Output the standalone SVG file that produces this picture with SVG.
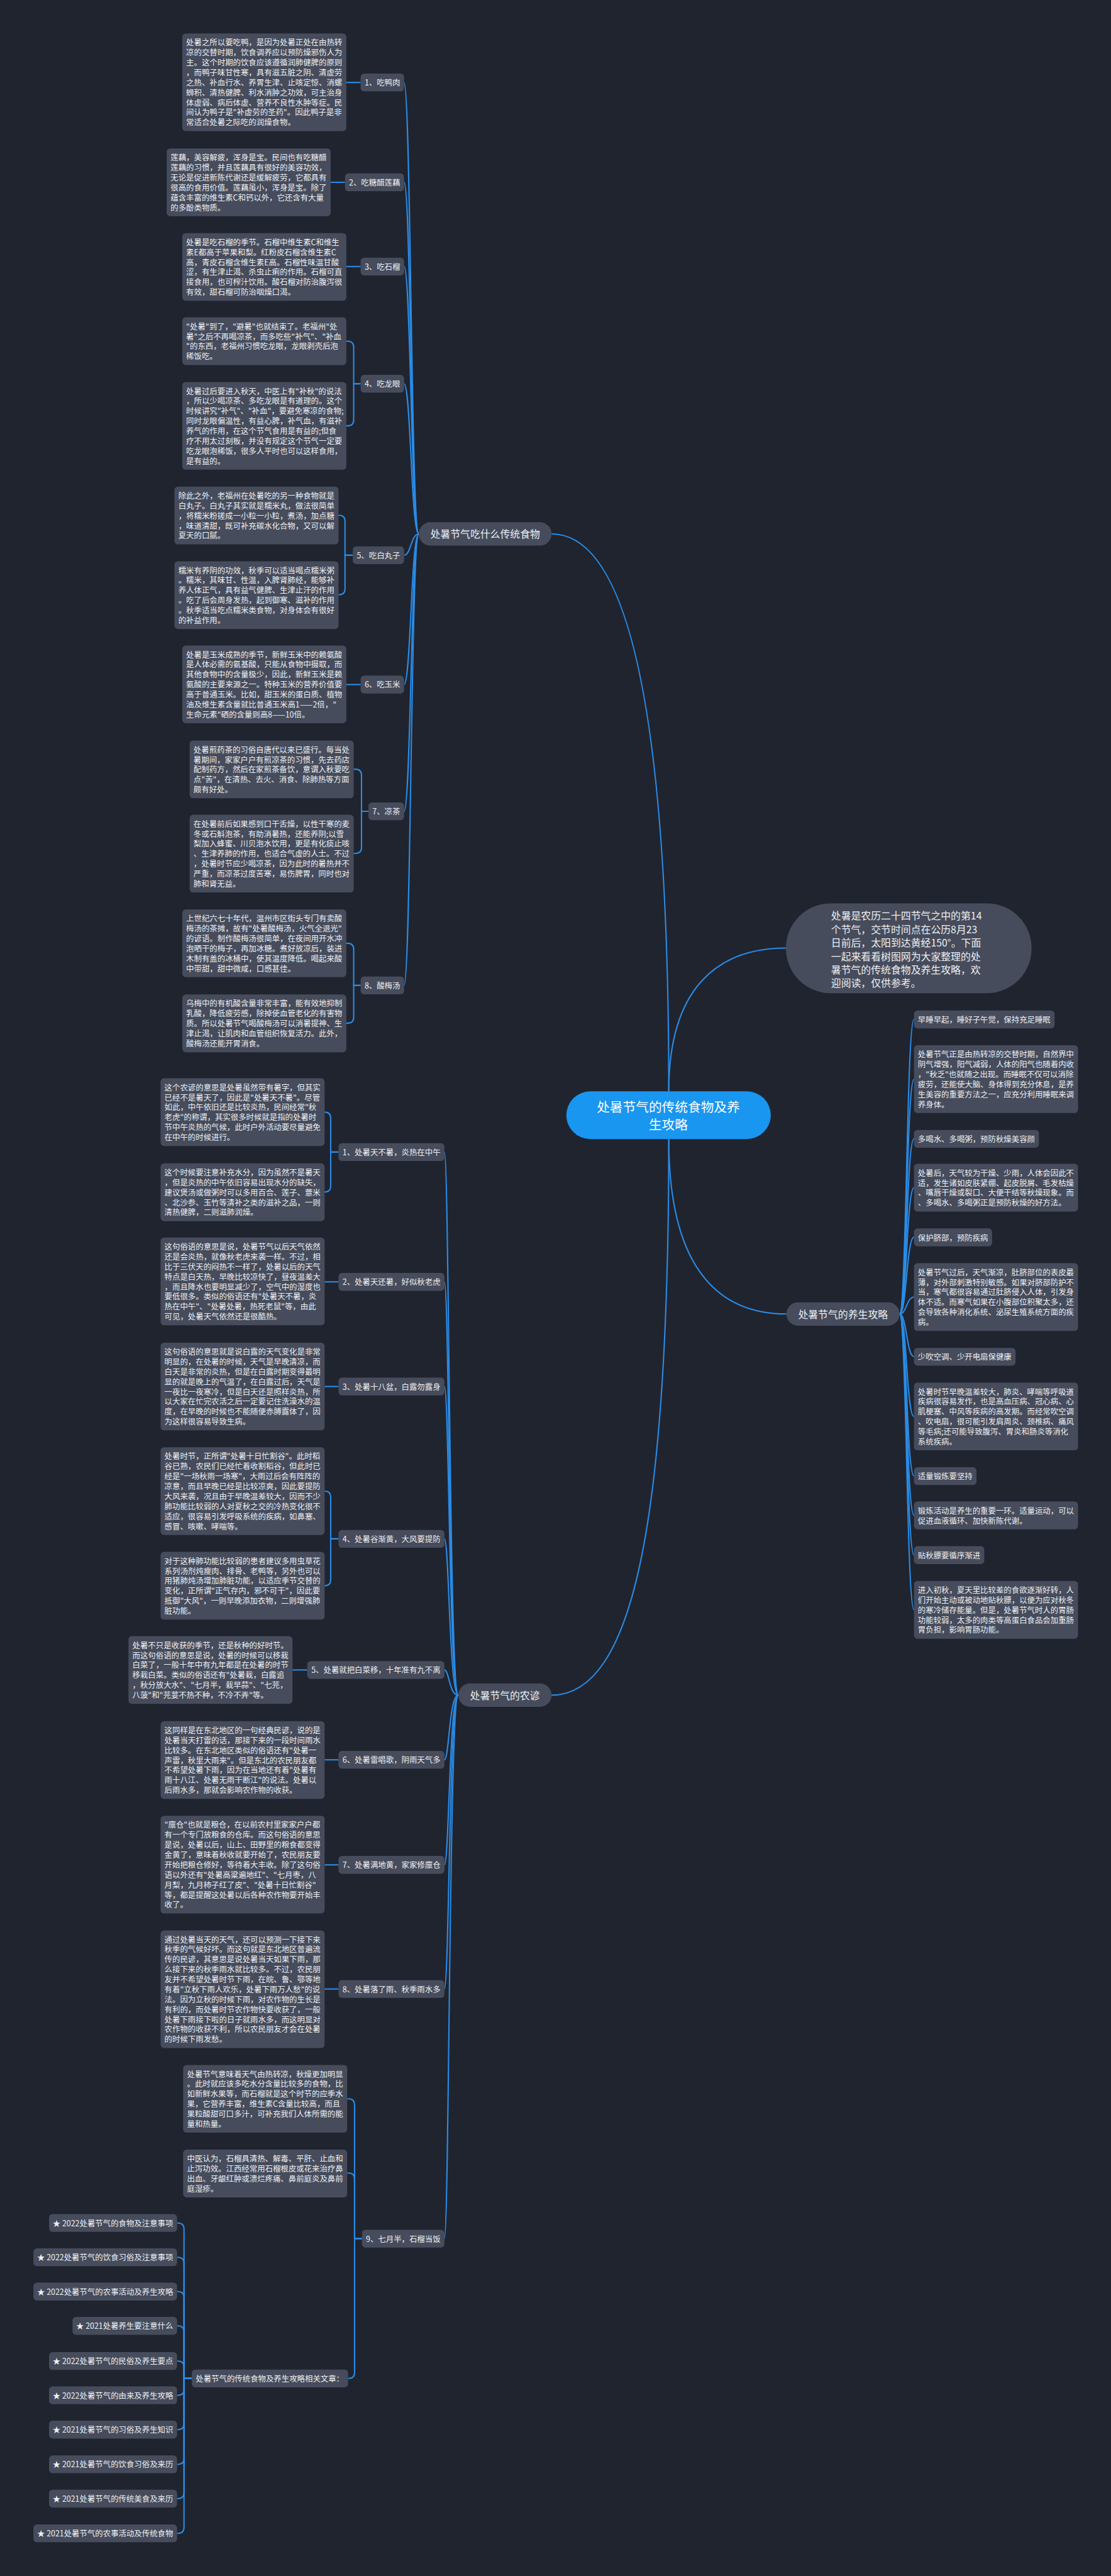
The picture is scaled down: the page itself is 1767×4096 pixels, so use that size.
<svg xmlns="http://www.w3.org/2000/svg" width="1767" height="4096" viewBox="0 0 1767 4096">
<style>
.bg{fill:#20242f}
.n rect{fill:#464c5c}
.n text{fill:#eef0f3;font-family:"Noto Sans CJK SC","Noto Sans",sans-serif;font-size:18px;dominant-baseline:central}
.b rect{fill:#464c5c}
.b text{fill:#eef0f3;font-family:"Noto Sans CJK SC","Noto Sans",sans-serif;font-size:23px;dominant-baseline:central;text-anchor:middle}
.lab text{text-anchor:end}
.c path{fill:none;stroke:#2a8ce6;stroke-width:3}
</style>
<rect class="bg" x="0" y="0" width="1767" height="4096"/>
<g transform="scale(0.690234)">
<g class="c" id="connectors">
<path d="M1541 2514 C1541 1700 1460 1230 1271 1230"/>
<path d="M1541 2514 C1541 2280 1650 2184 1811 2184"/>
<path d="M1541 2624 C1541 2900 1640 3027 1812 3027"/>
<path d="M1541 2624 C1541 3500 1460 3905 1271 3905"/>
<path d="M965 1230 C947 1230 947 190 931 190"/>
<path d="M965 1230 C947 1230 947 420 931 420"/>
<path d="M965 1230 C947 1230 947 614 931 614"/>
<path d="M965 1230 C947 1230 947 884 931 884"/>
<path d="M965 1230 C947 1230 947 1279 931 1279"/>
<path d="M965 1230 C947 1230 947 1577 931 1577"/>
<path d="M965 1230 C947 1230 947 1869 931 1869"/>
<path d="M965 1230 C947 1230 947 2270 931 2270"/>
<path d="M797 190 H831"/>
<path d="M762 420 H795"/>
<path d="M797 614 H831"/>
<path d="M831 884 H815 V800 Q815 786 801 786 H797"/>
<path d="M831 884 H815 V967 Q815 981 801 981 H797"/>
<path d="M813 1279 H795 V1201 Q795 1187 781 1187 H780"/>
<path d="M813 1279 H795 V1356 Q795 1370 781 1370 H780"/>
<path d="M797 1577 H831"/>
<path d="M849 1869 H833 V1786 Q833 1772 819 1772 H815"/>
<path d="M849 1869 H833 V1952 Q833 1966 819 1966 H815"/>
<path d="M831 2270 H815 V2187 Q815 2173 801 2173 H797"/>
<path d="M831 2270 H815 V2343 Q815 2357 801 2357 H797"/>
<path d="M1056 3905 C1035 3905 1035 2654 1024 2654"/>
<path d="M1056 3905 C1035 3905 1035 2953 1024 2953"/>
<path d="M1056 3905 C1035 3905 1035 3194 1024 3194"/>
<path d="M1056 3905 C1035 3905 1035 3545 1024 3545"/>
<path d="M1056 3905 C1035 3905 1035 3847 1024 3847"/>
<path d="M1056 3905 C1035 3905 1035 4054 1024 4054"/>
<path d="M1056 3905 C1035 3905 1035 4296 1024 4296"/>
<path d="M1056 3905 C1035 3905 1035 4582 1024 4582"/>
<path d="M1056 3905 C1035 3905 1035 5157 1024 5157"/>
<path d="M780 2654 H762 V2576 Q762 2562 748 2562"/>
<path d="M780 2654 H762 V2732 Q762 2746 748 2746"/>
<path d="M748 2953 H780"/>
<path d="M748 3194 H780"/>
<path d="M780 3545 H762 V3449 Q762 3435 748 3435"/>
<path d="M780 3545 H762 V3639 Q762 3653 748 3653"/>
<path d="M674 3847 H708"/>
<path d="M748 4054 H780"/>
<path d="M748 4296 H780"/>
<path d="M748 4582 H780"/>
<path d="M834 5157 H817 V4849 Q817 4835 803 4835 H800"/>
<path d="M834 5157 H817 V5020 Q817 5006 803 5006 H800"/>
<path d="M834 5157 H817 V5465 Q817 5479 803 5479 H802"/>
<path d="M442 5479 H424 V5135 Q424 5121 410 5121 H408"/>
<path d="M442 5479 H424 V5214 Q424 5200 410 5200 H408"/>
<path d="M442 5479 H424 V5293 Q424 5279 410 5279 H408"/>
<path d="M442 5479 H424 V5372 Q424 5358 410 5358 H408"/>
<path d="M442 5479 H424 V5453 Q424 5439 410 5439 H408"/>
<path d="M442 5479 H424 V5504 Q424 5518 410 5518 H408"/>
<path d="M442 5479 H424 V5583 Q424 5597 410 5597 H408"/>
<path d="M442 5479 H424 V5663 Q424 5677 410 5677 H408"/>
<path d="M442 5479 H424 V5742 Q424 5756 410 5756 H408"/>
<path d="M442 5479 H424 V5822 Q424 5836 410 5836 H408"/>
<path d="M2073 3027 C2089 3027 2089 2348 2106 2348"/>
<path d="M2073 3027 C2089 3027 2089 2486 2106 2486"/>
<path d="M2073 3027 C2089 3027 2089 2623 2106 2623"/>
<path d="M2073 3027 C2089 3027 2089 2736 2106 2736"/>
<path d="M2073 3027 C2089 3027 2089 2850 2106 2850"/>
<path d="M2073 3027 C2089 3027 2089 2988 2106 2988"/>
<path d="M2073 3027 C2089 3027 2089 3125 2106 3125"/>
<path d="M2073 3027 C2089 3027 2089 3263 2106 3263"/>
<path d="M2073 3027 C2089 3027 2089 3400 2106 3400"/>
<path d="M2073 3027 C2089 3027 2089 3491 2106 3491"/>
<path d="M2073 3027 C2089 3027 2089 3582 2106 3582"/>
<path d="M2073 3027 C2089 3027 2089 3708 2106 3708"/>
</g>

<g id="center">
<rect x="1305" y="2514" width="471" height="110" rx="55" fill="#1896f0"/>
<text x="1540" y="2548" fill="#ffffff" font-family="Noto Sans CJK SC, sans-serif" font-size="30" text-anchor="middle" dominant-baseline="central">处暑节气的传统食物及养</text>
<text x="1540" y="2589" fill="#ffffff" font-family="Noto Sans CJK SC, sans-serif" font-size="30" text-anchor="middle" dominant-baseline="central">生攻略</text>
</g>

<g id="intro" class="b">
<rect x="1811" y="2081" width="566" height="207" rx="103"/>
<text style="text-anchor:start" x="1915" y="2108.5"><tspan x="1915">处暑是农历二十四节气之中的第14</tspan><tspan x="1915" dy="31">个节气，交节时间点在公历8月23</tspan><tspan x="1915" dy="31">日前后，太阳到达黄经150°。下面</tspan><tspan x="1915" dy="31">一起来看看树图网为大家整理的处</tspan><tspan x="1915" dy="31">暑节气的传统食物及养生攻略，欢</tspan><tspan x="1915" dy="31">迎阅读，仅供参考。</tspan></text>
</g>

<g id="branch-food" class="b"><rect x="965" y="1203" width="306" height="54" rx="27"/><text x="1118" y="1230">处暑节气吃什么传统食物</text></g>
<g id="branch-health" class="b"><rect x="1812" y="3000" width="261" height="54" rx="27"/><text x="1942.5" y="3027">处暑节气的养生攻略</text></g>
<g id="branch-proverb" class="b"><rect x="1056" y="3878" width="215" height="54" rx="27"/><text x="1163.5" y="3905">处暑节气的农谚</text></g>

<g id="a-l1" class="n lab"><rect x="831" y="169.5" width="100" height="41" rx="8"/><text x="922" y="190">1、吃鸭肉</text></g>
<g id="a-l2" class="n lab"><rect x="795" y="399.5" width="136" height="41" rx="8"/><text x="922" y="420">2、吃糖醋莲藕</text></g>
<g id="a-l3" class="n lab"><rect x="831" y="593.5" width="100" height="41" rx="8"/><text x="922" y="614">3、吃石榴</text></g>
<g id="a-l4" class="n lab"><rect x="831" y="863.5" width="100" height="41" rx="8"/><text x="922" y="884">4、吃龙眼</text></g>
<g id="a-l5" class="n lab"><rect x="813" y="1258.5" width="118" height="41" rx="8"/><text x="922" y="1279">5、吃白丸子</text></g>
<g id="a-l6" class="n lab"><rect x="831" y="1556.5" width="100" height="41" rx="8"/><text x="922" y="1577">6、吃玉米</text></g>
<g id="a-l7" class="n lab"><rect x="849" y="1848.5" width="82" height="41" rx="8"/><text x="922" y="1869">7、凉茶</text></g>
<g id="a-l8" class="n lab"><rect x="831" y="2249.5" width="100" height="41" rx="8"/><text x="922" y="2270">8、酸梅汤</text></g>

<g id="a1" class="n"><rect x="420" y="77" width="378" height="225" rx="8"/><text x="429" y="97.5"><tspan x="429">处暑之所以要吃鸭，是因为处暑正处在由热转</tspan><tspan x="429" dy="23">凉的交替时期，饮食调养应以预防燥邪伤人为</tspan><tspan x="429" dy="23">主。这个时期的饮食应该遵循润肺健脾的原则</tspan><tspan x="429" dy="23">，而鸭子味甘性寒，具有滋五脏之阴、清虚劳</tspan><tspan x="429" dy="23">之热、补血行水、养胃生津、止咳定惊、消螺</tspan><tspan x="429" dy="23">蛳积、清热健脾、利水消肿之功效，可主治身</tspan><tspan x="429" dy="23">体虚弱、病后体虚、营养不良性水肿等症。民</tspan><tspan x="429" dy="23">间认为鸭子是"补虚劳的圣药"。因此鸭子是非</tspan><tspan x="429" dy="23">常适合处暑之际吃的润燥食物。</tspan></text></g>
<g id="a2" class="n"><rect x="384" y="342" width="378" height="156" rx="8"/><text x="393" y="362.5"><tspan x="393">莲藕，美容解疲，浑身是宝。民间也有吃糖醋</tspan><tspan x="393" dy="23">莲藕的习惯，并且莲藕具有很好的美容功效，</tspan><tspan x="393" dy="23">无论是促进新陈代谢还是缓解疲劳，它都具有</tspan><tspan x="393" dy="23">很高的食用价值。莲藕虽小，浑身是宝。除了</tspan><tspan x="393" dy="23">蕴含丰富的维生素C和钙以外，它还含有大量</tspan><tspan x="393" dy="23">的多酚类物质。</tspan></text></g>
<g id="a3" class="n"><rect x="420" y="537" width="378" height="156" rx="8"/><text x="429" y="557.5"><tspan x="429">处暑是吃石榴的季节。石榴中维生素C和维生</tspan><tspan x="429" dy="23">素E都高于苹果和梨。红粉皮石榴含维生素C</tspan><tspan x="429" dy="23">高，青皮石榴含维生素E高。石榴性味温甘酸</tspan><tspan x="429" dy="23">涩，有生津止渴、杀虫止痢的作用。石榴可直</tspan><tspan x="429" dy="23">接食用，也可榨汁饮用。酸石榴对防治腹泻很</tspan><tspan x="429" dy="23">有效，甜石榴可防治咽燥口渴。</tspan></text></g>
<g id="a4a" class="n"><rect x="420" y="731" width="378" height="110" rx="8"/><text x="429" y="751.5"><tspan x="429">"处暑"到了，"避暑"也就结束了。老福州"处</tspan><tspan x="429" dy="23">暑"之后不再喝凉茶，而多吃些"补气"、"补血</tspan><tspan x="429" dy="23">"的东西，老福州习惯吃龙眼，龙眼剥壳后泡</tspan><tspan x="429" dy="23">稀饭吃。</tspan></text></g>
<g id="a4b" class="n"><rect x="420" y="880" width="378" height="202" rx="8"/><text x="429" y="900.5"><tspan x="429">处暑过后要进入秋天，中医上有"补秋"的说法</tspan><tspan x="429" dy="23">，所以少喝凉茶、多吃龙眼是有道理的。这个</tspan><tspan x="429" dy="23">时候讲究"补气"、"补血"，要避免寒凉的食物;</tspan><tspan x="429" dy="23">同时龙眼偏温性，有益心脾，补气血，有滋补</tspan><tspan x="429" dy="23">养气的作用，在这个节气食用是有益的;但食</tspan><tspan x="429" dy="23">疗不用太过刻板，并没有规定这个节气一定要</tspan><tspan x="429" dy="23">吃龙眼泡稀饭，很多人平时也可以这样食用，</tspan><tspan x="429" dy="23">是有益的。</tspan></text></g>
<g id="a5a" class="n"><rect x="402" y="1121" width="378" height="133" rx="8"/><text x="411" y="1141.5"><tspan x="411">除此之外，老福州在处暑吃的另一种食物就是</tspan><tspan x="411" dy="23">白丸子。白丸子其实就是糯米丸，做法很简单</tspan><tspan x="411" dy="23">，将糯米粉搓成一小粒一小粒，煮汤，加点糖</tspan><tspan x="411" dy="23">，味道清甜，既可补充碳水化合物，又可以解</tspan><tspan x="411" dy="23">夏天的口腻。</tspan></text></g>
<g id="a5b" class="n"><rect x="402" y="1293" width="378" height="156" rx="8"/><text x="411" y="1313.5"><tspan x="411">糯米有养阴的功效，秋季可以适当喝点糯米粥</tspan><tspan x="411" dy="23">。糯米，其味甘、性温，入脾肾肺经，能够补</tspan><tspan x="411" dy="23">养人体正气，具有益气健脾、生津止汗的作用</tspan><tspan x="411" dy="23">。吃了后会周身发热，起到御寒、滋补的作用</tspan><tspan x="411" dy="23">。秋季适当吃点糯米类食物，对身体会有很好</tspan><tspan x="411" dy="23">的补益作用。</tspan></text></g>
<g id="a6" class="n"><rect x="420" y="1487" width="378" height="179" rx="8"/><text x="429" y="1507.5"><tspan x="429">处暑是玉米成熟的季节，新鲜玉米中的赖氨酸</tspan><tspan x="429" dy="23">是人体必需的氨基酸，只能从食物中摄取，而</tspan><tspan x="429" dy="23">其他食物中的含量极少，因此，新鲜玉米是赖</tspan><tspan x="429" dy="23">氨酸的主要来源之一。特种玉米的营养价值要</tspan><tspan x="429" dy="23">高于普通玉米。比如，甜玉米的蛋白质、植物</tspan><tspan x="429" dy="23">油及维生素含量就比普通玉米高1——2倍，"</tspan><tspan x="429" dy="23">生命元素"硒的含量则高8——10倍。</tspan></text></g>
<g id="a7a" class="n"><rect x="437" y="1706" width="378" height="133" rx="8"/><text x="446" y="1726.5"><tspan x="446">处暑煎药茶的习俗自唐代以来已盛行。每当处</tspan><tspan x="446" dy="23">暑期间，家家户户有煎凉茶的习惯，先去药店</tspan><tspan x="446" dy="23">配制药方，然后在家煎茶备饮，意谓入秋要吃</tspan><tspan x="446" dy="23">点"苦"，在清热、去火、消食、除肺热等方面</tspan><tspan x="446" dy="23">颇有好处。</tspan></text></g>
<g id="a7b" class="n"><rect x="437" y="1877" width="378" height="179" rx="8"/><text x="446" y="1897.5"><tspan x="446">在处暑前后如果感到口干舌燥，以性干寒的麦</tspan><tspan x="446" dy="23">冬或石斛泡茶，有助消暑热，还能养阴;以雪</tspan><tspan x="446" dy="23">梨加入蜂蜜、川贝泡水饮用，更是有化痰止咳</tspan><tspan x="446" dy="23">、生津养肺的作用，也适合气虚的人士。不过</tspan><tspan x="446" dy="23">，处暑时节应少喝凉茶，因为此时的暑热并不</tspan><tspan x="446" dy="23">严重，而凉茶过度苦寒，易伤脾胃，同时也对</tspan><tspan x="446" dy="23">肺和肾无益。</tspan></text></g>
<g id="a8a" class="n"><rect x="420" y="2095" width="378" height="156" rx="8"/><text x="429" y="2115.5"><tspan x="429">上世纪六七十年代，温州市区街头专门有卖酸</tspan><tspan x="429" dy="23">梅汤的茶摊，故有"处暑酸梅汤，火气全退光"</tspan><tspan x="429" dy="23">的谚语。制作酸梅汤很简单，在夜间用开水冲</tspan><tspan x="429" dy="23">泡晒干的梅子，再加冰糖。煮好放凉后，装进</tspan><tspan x="429" dy="23">木制有盖的冰桶中，使其温度降低。喝起来酸</tspan><tspan x="429" dy="23">中带甜，甜中微咸，口感甚佳。</tspan></text></g>
<g id="a8b" class="n"><rect x="420" y="2291" width="378" height="133" rx="8"/><text x="429" y="2311.5"><tspan x="429">乌梅中的有机酸含量非常丰富，能有效地抑制</tspan><tspan x="429" dy="23">乳酸，降低疲劳感，除掉使血管老化的有害物</tspan><tspan x="429" dy="23">质。所以处暑节气喝酸梅汤可以消暑提神、生</tspan><tspan x="429" dy="23">津止渴，让肌肉和血管组织恢复活力。此外，</tspan><tspan x="429" dy="23">酸梅汤还能开胃消食。</tspan></text></g>

<g id="b-l1" class="n lab"><rect x="780" y="2633.5" width="244" height="41" rx="8"/><text x="1015" y="2654">1、处暑天不暑，炎热在中午</text></g>
<g id="b-l2" class="n lab"><rect x="780" y="2932.5" width="244" height="41" rx="8"/><text x="1015" y="2953">2、处暑天还暑，好似秋老虎</text></g>
<g id="b-l3" class="n lab"><rect x="780" y="3173.5" width="244" height="41" rx="8"/><text x="1015" y="3194">3、处暑十八盆，白露勿露身</text></g>
<g id="b-l4" class="n lab"><rect x="780" y="3524.5" width="244" height="41" rx="8"/><text x="1015" y="3545">4、处暑谷渐黄，大风要提防</text></g>
<g id="b-l5" class="n lab"><rect x="708" y="3826.5" width="316" height="41" rx="8"/><text x="1015" y="3847">5、处暑就把白菜移，十年准有九不离</text></g>
<g id="b-l6" class="n lab"><rect x="780" y="4033.5" width="244" height="41" rx="8"/><text x="1015" y="4054">6、处暑雷唱歌，阴雨天气多</text></g>
<g id="b-l7" class="n lab"><rect x="780" y="4275.5" width="244" height="41" rx="8"/><text x="1015" y="4296">7、处暑满地黄，家家修廪仓</text></g>
<g id="b-l8" class="n lab"><rect x="780" y="4561.5" width="244" height="41" rx="8"/><text x="1015" y="4582">8、处暑落了雨、秋季雨水多</text></g>
<g id="b-l9" class="n lab"><rect x="834" y="5136.5" width="190" height="41" rx="8"/><text x="1015" y="5157">9、七月半，石榴当饭</text></g>

<g id="b1a" class="n"><rect x="370" y="2484" width="378" height="156" rx="8"/><text x="379" y="2504.5"><tspan x="379">这个农谚的意思是处暑虽然带有暑字，但其实</tspan><tspan x="379" dy="23">已经不是暑天了，因此是"处暑天不暑"。尽管</tspan><tspan x="379" dy="23">如此，中午依旧还是比较炎热，民间经常"秋</tspan><tspan x="379" dy="23">老虎"的称谓，其实很多时候就是指的处暑时</tspan><tspan x="379" dy="23">节中午炎热的气候，此时户外活动要尽量避免</tspan><tspan x="379" dy="23">在中午的时候进行。</tspan></text></g>
<g id="b1b" class="n"><rect x="370" y="2680" width="378" height="133" rx="8"/><text x="379" y="2700.5"><tspan x="379">这个时候要注意补充水分，因为虽然不是暑天</tspan><tspan x="379" dy="23">，但是炎热的中午依旧容易出现水分的缺失，</tspan><tspan x="379" dy="23">建议煲汤或做粥时可以多用百合、莲子、薏米</tspan><tspan x="379" dy="23">、北沙参、玉竹等清补之类的滋补之品，一则</tspan><tspan x="379" dy="23">清热健脾，二则滋肺润燥。</tspan></text></g>
<g id="b2" class="n"><rect x="370" y="2851" width="378" height="202" rx="8"/><text x="379" y="2871.5"><tspan x="379">这句俗语的意思是说，处暑节气以后天气依然</tspan><tspan x="379" dy="23">还是会炎热，就像秋老虎来袭一样。不过，相</tspan><tspan x="379" dy="23">比于三伏天的闷热不一样了，处暑以后的天气</tspan><tspan x="379" dy="23">特点是白天热，早晚比较凉快了，昼夜温差大</tspan><tspan x="379" dy="23">，而且降水也要明显减少了，空气中的湿度也</tspan><tspan x="379" dy="23">要低很多。类似的俗语还有"处暑天不暑，炎</tspan><tspan x="379" dy="23">热在中午"、"处暑处暑，热死老鼠"等，由此</tspan><tspan x="379" dy="23">可见，处暑天气依然还是很酷热。</tspan></text></g>
<g id="b3" class="n"><rect x="370" y="3093" width="378" height="202" rx="8"/><text x="379" y="3113.5"><tspan x="379">这句俗语的意思就是说白露的天气变化是非常</tspan><tspan x="379" dy="23">明显的，在处暑的时候，天气是早晚清凉，而</tspan><tspan x="379" dy="23">白天是非常的炎热，但是在白露时期变得最明</tspan><tspan x="379" dy="23">显的就是晚上的气温了，在白露过后，天气是</tspan><tspan x="379" dy="23">一夜比一夜寒冷，但是白天还是照样炎热，所</tspan><tspan x="379" dy="23">以大家在忙完农活之后一定要记住洗澡水的温</tspan><tspan x="379" dy="23">度，在早晚的时候也不能随便赤膊露体了，因</tspan><tspan x="379" dy="23">为这样很容易导致生病。</tspan></text></g>
<g id="b4a" class="n"><rect x="370" y="3334" width="378" height="202" rx="8"/><text x="379" y="3354.5"><tspan x="379">处暑时节，正所谓"处暑十日忙割谷"。此时稻</tspan><tspan x="379" dy="23">谷已熟，农民们已经忙着收割稻谷，但此时已</tspan><tspan x="379" dy="23">经是"一场秋雨一场寒"，大雨过后会有阵阵的</tspan><tspan x="379" dy="23">凉意，而且早晚已经是比较凉爽，因此要提防</tspan><tspan x="379" dy="23">大风来袭，况且由于早晚温差较大，因而不少</tspan><tspan x="379" dy="23">肺功能比较弱的人对夏秋之交的冷热变化很不</tspan><tspan x="379" dy="23">适应，很容易引发呼吸系统的疾病，如鼻塞、</tspan><tspan x="379" dy="23">感冒、咳嗽、哮喘等。</tspan></text></g>
<g id="b4b" class="n"><rect x="370" y="3575" width="378" height="156" rx="8"/><text x="379" y="3595.5"><tspan x="379">对于这种肺功能比较弱的患者建议多用虫草花</tspan><tspan x="379" dy="23">系列汤剂炖瘦肉、排骨、老鸭等，另外也可以</tspan><tspan x="379" dy="23">用猪肺炖汤增加肺脏功能，以适应季节交替的</tspan><tspan x="379" dy="23">变化，正所谓"正气存内，邪不可干"，因此要</tspan><tspan x="379" dy="23">抵御"大风"，一则早晚添加衣物，二则增强肺</tspan><tspan x="379" dy="23">脏功能。</tspan></text></g>
<g id="b5" class="n"><rect x="296" y="3769" width="378" height="156" rx="8"/><text x="305" y="3789.5"><tspan x="305">处暑不只是收获的季节，还是秋种的好时节。</tspan><tspan x="305" dy="23">而这句俗语的意思是说，处暑的时候可以移栽</tspan><tspan x="305" dy="23">白菜了，一般十年中有九年都是在处暑的时节</tspan><tspan x="305" dy="23">移栽白菜。类似的俗语还有"处暑栽，白露追</tspan><tspan x="305" dy="23">，秋分放大水"、"七月半，栽早蒜"、"七芫，</tspan><tspan x="305" dy="23">八菠"和"芫荽不热不种，不冷不弄"等。</tspan></text></g>
<g id="b6" class="n"><rect x="370" y="3965" width="378" height="179" rx="8"/><text x="379" y="3985.5"><tspan x="379">这同样是在东北地区的一句经典民谚，说的是</tspan><tspan x="379" dy="23">处暑当天打雷的话，那接下来的一段时间雨水</tspan><tspan x="379" dy="23">比较多。在东北地区类似的俗语还有"处暑一</tspan><tspan x="379" dy="23">声雷，秋里大雨来"。但是东北的农民朋友都</tspan><tspan x="379" dy="23">不希望处暑下雨，因为在当地还有着"处暑有</tspan><tspan x="379" dy="23">雨十八江、处暑无雨干断江"的说法。处暑以</tspan><tspan x="379" dy="23">后雨水多，那就会影响农作物的收获。</tspan></text></g>
<g id="b7" class="n"><rect x="370" y="4183" width="378" height="225" rx="8"/><text x="379" y="4203.5"><tspan x="379">"廪仓"也就是粮仓，在以前农村里家家户户都</tspan><tspan x="379" dy="23">有一个专门放粮食的仓库。而这句俗语的意思</tspan><tspan x="379" dy="23">是说，处暑以后，山上、田野里的粮食都变得</tspan><tspan x="379" dy="23">金黄了，意味着秋收就要开始了，农民朋友要</tspan><tspan x="379" dy="23">开始把粮仓修好，等待着大丰收。除了这句俗</tspan><tspan x="379" dy="23">语以外还有"处暑高粱遍地红"、"七月枣，八</tspan><tspan x="379" dy="23">月梨，九月柿子红了皮"、"处暑十日忙割谷"</tspan><tspan x="379" dy="23">等，都是提醒这处暑以后各种农作物要开始丰</tspan><tspan x="379" dy="23">收了。</tspan></text></g>
<g id="b8" class="n"><rect x="370" y="4447" width="378" height="271" rx="8"/><text x="379" y="4467.5"><tspan x="379">通过处暑当天的天气，还可以预测一下接下来</tspan><tspan x="379" dy="23">秋季的气候好坏。而这句就是东北地区普遍流</tspan><tspan x="379" dy="23">传的民谚，其意思是说处暑当天如果下雨，那</tspan><tspan x="379" dy="23">么接下来的秋季雨水就比较多。不过，农民朋</tspan><tspan x="379" dy="23">友并不希望处暑时节下雨，在皖、鲁、鄂等地</tspan><tspan x="379" dy="23">有着"立秋下雨人欢乐，处暑下雨万人愁"的说</tspan><tspan x="379" dy="23">法。因为立秋的时候下雨，对农作物的生长是</tspan><tspan x="379" dy="23">有利的，而处暑时节农作物快要收获了，一般</tspan><tspan x="379" dy="23">处暑下雨接下啦的日子就雨水多，而这明显对</tspan><tspan x="379" dy="23">农作物的收获不利，所以农民朋友才会在处暑</tspan><tspan x="379" dy="23">的时候下雨发愁。</tspan></text></g>
<g id="b9a" class="n"><rect x="422" y="4757" width="378" height="156" rx="8"/><text x="431" y="4777.5"><tspan x="431">处暑节气意味着天气由热转凉，秋燥更加明显</tspan><tspan x="431" dy="23">。此时就应该多吃水分含量比较多的食物，比</tspan><tspan x="431" dy="23">如新鲜水果等，而石榴就是这个时节的应季水</tspan><tspan x="431" dy="23">果，它营养丰富，维生素C含量比较高，而且</tspan><tspan x="431" dy="23">果粒酸甜可口多汁，可补充我们人体所需的能</tspan><tspan x="431" dy="23">量和热量。</tspan></text></g>
<g id="b9b" class="n"><rect x="422" y="4952" width="378" height="110" rx="8"/><text x="431" y="4972.5"><tspan x="431">中医认为，石榴具清热、解毒、平肝、止血和</tspan><tspan x="431" dy="23">止泻功效。江西经常用石榴根皮或花来治疗鼻</tspan><tspan x="431" dy="23">出血、牙龈红肿或溃烂疼痛、鼻前庭炎及鼻前</tspan><tspan x="431" dy="23">庭湿疹。</tspan></text></g>
<g id="b9c" class="n"><rect x="442" y="5458.5" width="360" height="41" rx="8"/><text x="451" y="5479">处暑节气的传统食物及养生攻略相关文章：</text></g>

<g id="r1" class="n lab"><rect x="113" y="5100.5" width="295" height="41" rx="8"/><text x="399" y="5121">★ 2022处暑节气的食物及注意事项</text></g>
<g id="r2" class="n lab"><rect x="77" y="5179.5" width="331" height="41" rx="8"/><text x="399" y="5200">★ 2022处暑节气的饮食习俗及注意事项</text></g>
<g id="r3" class="n lab"><rect x="77" y="5258.5" width="331" height="41" rx="8"/><text x="399" y="5279">★ 2022处暑节气的农事活动及养生攻略</text></g>
<g id="r4" class="n lab"><rect x="167" y="5337.5" width="241" height="41" rx="8"/><text x="399" y="5358">★ 2021处暑养生要注意什么</text></g>
<g id="r5" class="n lab"><rect x="113" y="5418.5" width="295" height="41" rx="8"/><text x="399" y="5439">★ 2022处暑节气的民俗及养生要点</text></g>
<g id="r6" class="n lab"><rect x="113" y="5497.5" width="295" height="41" rx="8"/><text x="399" y="5518">★ 2022处暑节气的由来及养生攻略</text></g>
<g id="r7" class="n lab"><rect x="113" y="5576.5" width="295" height="41" rx="8"/><text x="399" y="5597">★ 2021处暑节气的习俗及养生知识</text></g>
<g id="r8" class="n lab"><rect x="113" y="5656.5" width="295" height="41" rx="8"/><text x="399" y="5677">★ 2021处暑节气的饮食习俗及来历</text></g>
<g id="r9" class="n lab"><rect x="113" y="5735.5" width="295" height="41" rx="8"/><text x="399" y="5756">★ 2021处暑节气的传统美食及来历</text></g>
<g id="r10" class="n lab"><rect x="77" y="5815.5" width="331" height="41" rx="8"/><text x="399" y="5836">★ 2021处暑节气的农事活动及传统食物</text></g>

<g id="c1" class="n"><rect x="2106" y="2328" width="324" height="41" rx="8"/><text x="2115" y="2348.5">早睡早起，睡好子午觉，保持充足睡眠</text></g>
<g id="c2" class="n"><rect x="2106" y="2408" width="378" height="156" rx="8"/><text x="2115" y="2428.5"><tspan x="2115">处暑节气正是由热转凉的交替时期，自然界中</tspan><tspan x="2115" dy="23">阴气增强，阳气减弱，人体的阳气也随着内收</tspan><tspan x="2115" dy="23">，"秋乏"也就随之出现。而睡眠不仅可以消除</tspan><tspan x="2115" dy="23">疲劳，还能使大脑、身体得到充分休息，是养</tspan><tspan x="2115" dy="23">生美容的重要方法之一，应充分利用睡眠来调</tspan><tspan x="2115" dy="23">养身体。</tspan></text></g>
<g id="c3" class="n"><rect x="2106" y="2603" width="288" height="41" rx="8"/><text x="2115" y="2623.5">多喝水、多喝粥，预防秋燥美容颜</text></g>
<g id="c4" class="n"><rect x="2106" y="2681" width="378" height="110" rx="8"/><text x="2115" y="2701.5"><tspan x="2115">处暑后，天气较为干燥、少雨，人体会因此不</tspan><tspan x="2115" dy="23">适，发生诸如皮肤紧绷、起皮脱屑、毛发枯燥</tspan><tspan x="2115" dy="23">、嘴唇干燥或裂口、大便干结等秋燥现象。而</tspan><tspan x="2115" dy="23">、多喝水、多喝粥正是预防秋燥的好方法。</tspan></text></g>
<g id="c5" class="n"><rect x="2106" y="2830" width="180" height="41" rx="8"/><text x="2115" y="2850.5">保护脐部，预防疾病</text></g>
<g id="c6" class="n"><rect x="2106" y="2910" width="378" height="156" rx="8"/><text x="2115" y="2930.5"><tspan x="2115">处暑节气过后，天气渐凉，肚脐部位的表皮最</tspan><tspan x="2115" dy="23">薄，对外部刺激特别敏感。如果对脐部防护不</tspan><tspan x="2115" dy="23">当，寒气都很容易通过肚脐侵入人体，引发身</tspan><tspan x="2115" dy="23">体不适。而寒气如果在小腹部位积聚太多，还</tspan><tspan x="2115" dy="23">会导致各种消化系统、泌尿生殖系统方面的疾</tspan><tspan x="2115" dy="23">病。</tspan></text></g>
<g id="c7" class="n"><rect x="2106" y="3105" width="234" height="41" rx="8"/><text x="2115" y="3125.5">少吹空调、少开电扇保健康</text></g>
<g id="c8" class="n"><rect x="2106" y="3185" width="378" height="156" rx="8"/><text x="2115" y="3205.5"><tspan x="2115">处暑时节早晚温差较大，肺炎、哮喘等呼吸道</tspan><tspan x="2115" dy="23">疾病很容易发作，也是高血压病、冠心病、心</tspan><tspan x="2115" dy="23">肌梗塞、中风等疾病的高发期。而经常吹空调</tspan><tspan x="2115" dy="23">、吹电扇，很可能引发肩周炎、颈椎病、痛风</tspan><tspan x="2115" dy="23">等毛病;还可能导致腹泻、胃炎和肠炎等消化</tspan><tspan x="2115" dy="23">系统疾病。</tspan></text></g>
<g id="c9" class="n"><rect x="2106" y="3380" width="144" height="41" rx="8"/><text x="2115" y="3400.5">适量锻炼要坚持</text></g>
<g id="c10" class="n"><rect x="2106" y="3459" width="378" height="64" rx="8"/><text x="2115" y="3479.5"><tspan x="2115">锻炼活动是养生的重要一环。适量运动，可以</tspan><tspan x="2115" dy="23">促进血液循环、加快新陈代谢。</tspan></text></g>
<g id="c11" class="n"><rect x="2106" y="3562" width="162" height="41" rx="8"/><text x="2115" y="3582.5">贴秋膘要循序渐进</text></g>
<g id="c12" class="n"><rect x="2106" y="3642" width="378" height="133" rx="8"/><text x="2115" y="3662.5"><tspan x="2115">进入初秋，夏天里比较差的食欲逐渐好转，人</tspan><tspan x="2115" dy="23">们开始主动或被动地贴秋膘，以便为应对秋冬</tspan><tspan x="2115" dy="23">的寒冷储存能量。但是，处暑节气时人的胃肠</tspan><tspan x="2115" dy="23">功能较弱，太多的肉类等高蛋白食品会加重肠</tspan><tspan x="2115" dy="23">胃负担，影响胃肠功能。</tspan></text></g>
</g>
</svg>
